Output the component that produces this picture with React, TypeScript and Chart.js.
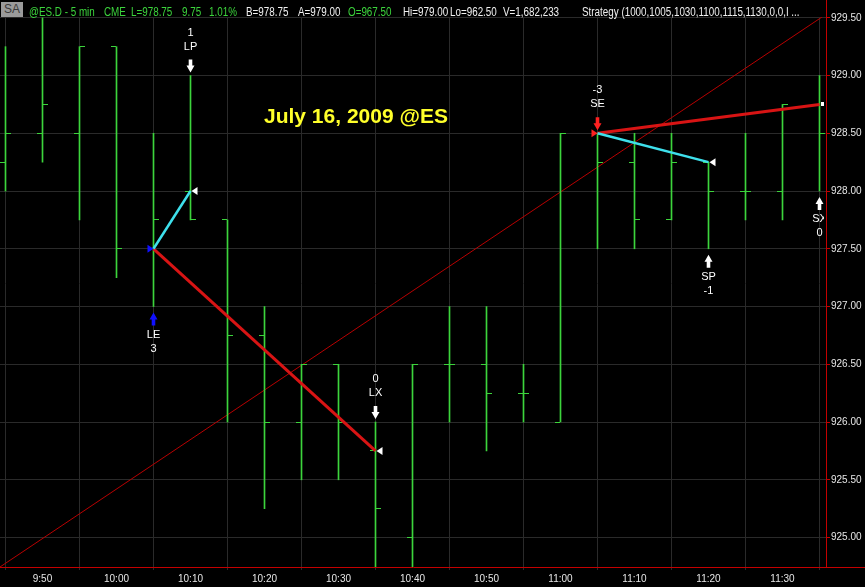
import React, { useEffect, useRef } from 'react';
import { Chart, registerables } from 'chart.js';

Chart.register(...registerables);

// ---- data ----
const barTimes = ['9:45', '9:50', '9:55', '10:00', '10:05', '10:10', '10:15', '10:20', '10:25', '10:30', '10:35', '10:40', '10:45', '10:50', '10:55', '11:00', '11:05', '11:10', '11:15', '11:20', '11:25', '11:30', '11:35'];
const opens = [928.25, 928.5, 928.5, 929.25, 927.5, 928.0, 927.75, 926.75, 926.0, 926.5, 925.75, 925.0, 926.5, 926.5, 926.25, 926.0, 928.5, 928.25, 927.75, 928.25, 928.0, 928.0, 928.75];
const highs = [929.25, 929.5, 929.25, 929.25, 928.5, 929.0, 927.75, 927.0, 926.5, 926.5, 926.0, 926.5, 927.0, 927.0, 926.5, 928.5, 928.5, 928.5, 928.5, 928.25, 928.5, 928.75, 929.0];
const lows = [928.0, 928.25, 927.75, 927.25, 927.0, 927.75, 926.0, 925.25, 925.5, 925.5, 924.5, 924.5, 926.0, 925.75, 926.0, 926.0, 927.5, 927.5, 927.75, 927.5, 927.75, 927.75, 928.0];
const closes = [928.5, 928.75, 929.25, 927.5, 927.75, 927.75, 926.75, 926.0, 926.5, 926.0, 925.25, 926.5, 926.5, 926.25, 926.25, 928.5, 928.25, 927.75, 928.25, 928.0, 928.0, 928.75, 928.5];

const xTickBars = [1, 3, 5, 7, 9, 11, 13, 15, 17, 19, 21];
const yTickValues = [925.0, 925.5, 926.0, 926.5, 927.0, 927.5, 928.0, 928.5, 929.0, 929.5];

// trend line (bar index, price)
const trendBars = [-0.149, 22.176];
const trendPrices = [924.745, 929.53];

// strategy trades
const entryBars = [4, 16];
const entryPrices = [927.5, 928.5];
const entryLabels = ['LE', 'SE'];
const entryQty = ['3', '-3'];
const entryLong = [true, false];

const exitBars = [5, 10, 19, 22];
const exitPrices = [928.0, 925.75, 928.25, 928.75];
const exitLabels = ['LP', 'LX', 'SP', 'SX'];
const exitQty = ['1', '0', '-1', '0'];
const exitEntry = [0, 0, 1, 1];
const exitIsProfit = [true, false, true, false];
const exitSquare = [false, false, false, true];

const chartTitle = 'July 16, 2009 @ES';

const headerParts = [
  { text: '@ES.D - 5 min', green: true },
  { text: 'CME', green: true },
  { text: 'L=978.75', green: true },
  { text: '9.75', green: true },
  { text: '1.01%', green: true },
  { text: 'B=978.75', green: false },
  { text: 'A=979.00', green: false },
  { text: 'O=967.50', green: true },
  { text: 'Hi=979.00', green: false },
  { text: 'Lo=962.50', green: false },
  { text: 'V=1,682,233', green: false },
  { text: 'Strategy (1000,1005,1030,1100,1115,1130,0,0,I ...', green: false },
];
const headerLeft = [29, 104, 131, 182, 209, 246, 298, 348, 403, 450, 503, 582];

// ---- styles ----
const GREEN = '#3cd43c';
const GRID = '#2a2a2a';
const AXIS_RED = '#c40000';
const TRADE_RED = '#d81414';
const CYAN = '#3ee0ec';
const FONT = '"Liberation Sans", Arial, sans-serif';

function drawArrow(ctx: CanvasRenderingContext2D, x: number, tipY: number, down: boolean, color: string) {
  const d = down ? -1 : 1; // direction from tip to tail
  const len = 13, head = 7, hw = 4, sw = 1.8;
  ctx.fillStyle = color;
  ctx.beginPath();
  ctx.moveTo(x, tipY);
  ctx.lineTo(x + hw, tipY + d * head);
  ctx.lineTo(x + sw, tipY + d * head);
  ctx.lineTo(x + sw, tipY + d * len);
  ctx.lineTo(x - sw, tipY + d * len);
  ctx.lineTo(x - sw, tipY + d * head);
  ctx.lineTo(x - hw, tipY + d * head);
  ctx.closePath();
  ctx.fill();
}

const ohlcPlugin = {
  id: 'ohlcStrategy',
  afterDatasetDraw(chart: any, args: any) {
    if (args.index !== 0) return;
    const { ctx, chartArea, scales } = chart;
    const x = scales.x, y = scales.y;
    ctx.save();
    ctx.beginPath();
    ctx.rect(chartArea.left, chartArea.top, chartArea.right - chartArea.left, chartArea.bottom - chartArea.top);
    ctx.clip();
    ctx.fillStyle = GREEN;
    opens.forEach((o, i) => {
      const xc = Math.round(x.getPixelForValue(i) - 0.5);
      const yo = Math.round(y.getPixelForValue(o) - 0.5);
      const yc = Math.round(y.getPixelForValue(closes[i]) - 0.5);
      ctx.fillRect(xc - 5, yo, 5, 1);
      ctx.fillRect(xc + 1, yc, 5, 1);
    });
    ctx.restore();
  },
  afterDatasetsDraw(chart: any) {
    const { ctx, chartArea, scales } = chart;
    const x = scales.x, y = scales.y;
    ctx.save();
    ctx.beginPath();
    ctx.rect(chartArea.left, chartArea.top, chartArea.right - chartArea.left - 2, chartArea.bottom - chartArea.top);
    ctx.clip();

    ctx.font = '11px ' + FONT;
    ctx.textAlign = 'center';
    ctx.textBaseline = 'middle';

    // entries
    entryBars.forEach((b, k) => {
      const xc = x.getPixelForValue(b);
      const yp = y.getPixelForValue(entryPrices[k]);
      const color = entryLong[k] ? '#1010ff' : '#ff2020';
      ctx.fillStyle = color;
      ctx.beginPath();
      ctx.moveTo(xc, yp);
      ctx.lineTo(xc - 6, yp - 4);
      ctx.lineTo(xc - 6, yp + 4);
      ctx.closePath();
      ctx.fill();
      if (entryLong[k]) {
        const yl = y.getPixelForValue(lows[b]);
        drawArrow(ctx, xc, yl + 6, false, color);
        ctx.fillStyle = '#ffffff';
        ctx.fillText(entryLabels[k], xc, yl + 28);
        ctx.fillText(entryQty[k], xc, yl + 42);
      } else {
        const yh = y.getPixelForValue(highs[b]);
        drawArrow(ctx, xc, yh - 3, true, color);
        ctx.fillStyle = '#ffffff';
        ctx.fillText(entryLabels[k], xc, yh - 29);
        ctx.fillText(entryQty[k], xc, yh - 43);
      }
    });

    // exits
    exitBars.forEach((b, k) => {
      const xc = x.getPixelForValue(b);
      const yp = y.getPixelForValue(exitPrices[k]);
      ctx.fillStyle = '#ffffff';
      if (exitSquare[k]) {
        ctx.fillRect(Math.round(xc) + 1, Math.round(yp) - 2, 4, 4);
      } else {
        ctx.beginPath();
        ctx.moveTo(xc + 1, yp);
        ctx.lineTo(xc + 7, yp - 4);
        ctx.lineTo(xc + 7, yp + 4);
        ctx.closePath();
        ctx.fill();
      }
      const long = entryLong[exitEntry[k]];
      if (long) {
        const yh = y.getPixelForValue(highs[b]);
        drawArrow(ctx, xc, yh - 3, true, '#ffffff');
        ctx.fillStyle = '#ffffff';
        ctx.fillText(exitLabels[k], xc, yh - 29);
        ctx.fillText(exitQty[k], xc, yh - 43);
      } else {
        const yl = y.getPixelForValue(lows[b]);
        drawArrow(ctx, xc, yl + 6, false, '#ffffff');
        ctx.fillStyle = '#ffffff';
        ctx.fillText(exitLabels[k], xc, yl + 28);
        ctx.fillText(exitQty[k], xc, yl + 42);
      }
    });

    // title
    ctx.font = 'bold 21px ' + FONT;
    ctx.textAlign = 'left';
    ctx.textBaseline = 'alphabetic';
    ctx.fillStyle = '#ffff2a';
    ctx.fillText(chartTitle, 264, 123);
    ctx.restore();
  },
  afterDraw(chart: any) {
    const { ctx, chartArea } = chart;
    ctx.save();
    ctx.strokeStyle = AXIS_RED;
    ctx.lineWidth = 1;
    ctx.beginPath();
    const yb = Math.round(chartArea.bottom) + 0.5;
    ctx.moveTo(chartArea.right, yb);
    ctx.lineTo(chart.width, yb);
    ctx.stroke();
    ctx.restore();
  },
};

export default function App() {
  const canvasRef = useRef<HTMLCanvasElement | null>(null);

  useEffect(() => {
    const canvas = canvasRef.current;
    if (!canvas) return;

    const datasets: any[] = [];
    datasets.push({
      type: 'bar',
      data: barTimes.map((_, i) => ({ x: i, y: [lows[i], highs[i]] })),
      backgroundColor: GREEN,
      borderWidth: 0,
      barThickness: 1,
      order: 1,
    });
    datasets.push({
      type: 'line',
      data: trendBars.map((b, i) => ({ x: b, y: trendPrices[i] })),
      borderColor: '#b80000',
      borderWidth: 1,
      pointRadius: 0,
      order: 2,
    });
    exitBars.forEach((b, k) => {
      const e = exitEntry[k];
      datasets.push({
        type: 'line',
        data: [
          { x: entryBars[e], y: entryPrices[e] },
          { x: b, y: exitPrices[k] },
        ],
        borderColor: exitIsProfit[k] ? CYAN : TRADE_RED,
        borderWidth: exitIsProfit[k] ? 2.5 : 3,
        pointRadius: 0,
        order: 0,
      });
    });

    const chart = new Chart(canvas, {
      type: 'bar',
      data: { datasets },
      plugins: [ohlcPlugin],
      options: {
        animation: false,
        responsive: false,
        events: [],
        layout: { padding: 0 },
        plugins: { legend: { display: false }, tooltip: { enabled: false }, title: { display: false } },
        scales: {
          x: {
            type: 'linear',
            position: 'bottom',
            min: -5.5 / 37,
            max: (826 - 5.5) / 37,
            offset: false,
            bounds: 'data',
            afterBuildTicks: (scale: any) => {
              scale.ticks = xTickBars.map((v) => ({ value: v }));
            },
            afterFit: (scale: any) => {
              scale.height = 20;
              scale.paddingLeft = 0;
              scale.paddingRight = 0;
              scale.paddingTop = 0;
              scale.paddingBottom = 0;
            },
            grid: { color: GRID, tickColor: GRID, tickLength: 3, drawOnChartArea: true },
            border: { color: AXIS_RED, width: 1 },
            ticks: {
              autoSkip: false,
              maxRotation: 0,
              padding: 3,
              color: '#e6e6e6',
              font: { family: FONT, size: 10 },
              callback: (value: any) => barTimes[Math.round(Number(value))] ?? '',
            },
          },
          y: {
            type: 'linear',
            position: 'right',
            min: 929.654 - 567 / 115.5,
            max: 929.654,
            bounds: 'data',
            afterBuildTicks: (scale: any) => {
              scale.ticks = yTickValues.map((v) => ({ value: v }));
            },
            afterFit: (scale: any) => {
              scale.width = 39;
              scale.paddingTop = 0;
              scale.paddingBottom = 0;
              scale.paddingLeft = 0;
              scale.paddingRight = 0;
            },
            grid: { color: GRID, tickColor: AXIS_RED, tickLength: 4 },
            border: { color: AXIS_RED, width: 1 },
            ticks: {
              padding: 1,
              color: '#e6e6e6',
              font: { family: FONT, size: 10 },
              callback: (value: any) => Number(value).toFixed(2),
            },
          },
        },
      } as any,
    });

    return () => {
      chart.destroy();
    };
  }, []);

  return (
    <div style={{ position: 'fixed', left: 0, top: 0, width: 865, height: 587, background: '#000', overflow: 'hidden' }}>
      <canvas ref={canvasRef} width={865} height={587} style={{ display: 'block', width: 865, height: 587 }} />
      <div style={{ position: 'absolute', left: 0, top: 0, width: 826, height: 17, background: '#000' }}>
        <div
          style={{
            position: 'absolute', left: 1, top: 2, width: 22, height: 15, background: '#9a9a9a', color: '#3a3a3a',
            font: '12px "Liberation Sans", Arial, sans-serif', lineHeight: '15px', textAlign: 'center',
          }}
        >
          SA
        </div>
        {headerParts.map((p, i) => (
          <span
            key={i}
            style={{
              position: 'absolute', left: headerLeft[i], top: 6, whiteSpace: 'nowrap',
              font: '12px "Liberation Sans", Arial, sans-serif',
              lineHeight: '12px', color: p.green ? GREEN : '#f0f0f0',
              transform: 'scaleX(0.82)', transformOrigin: 'left center',
            }}
          >
            {p.text}
          </span>
        ))}
      </div>
    </div>
  );
}
